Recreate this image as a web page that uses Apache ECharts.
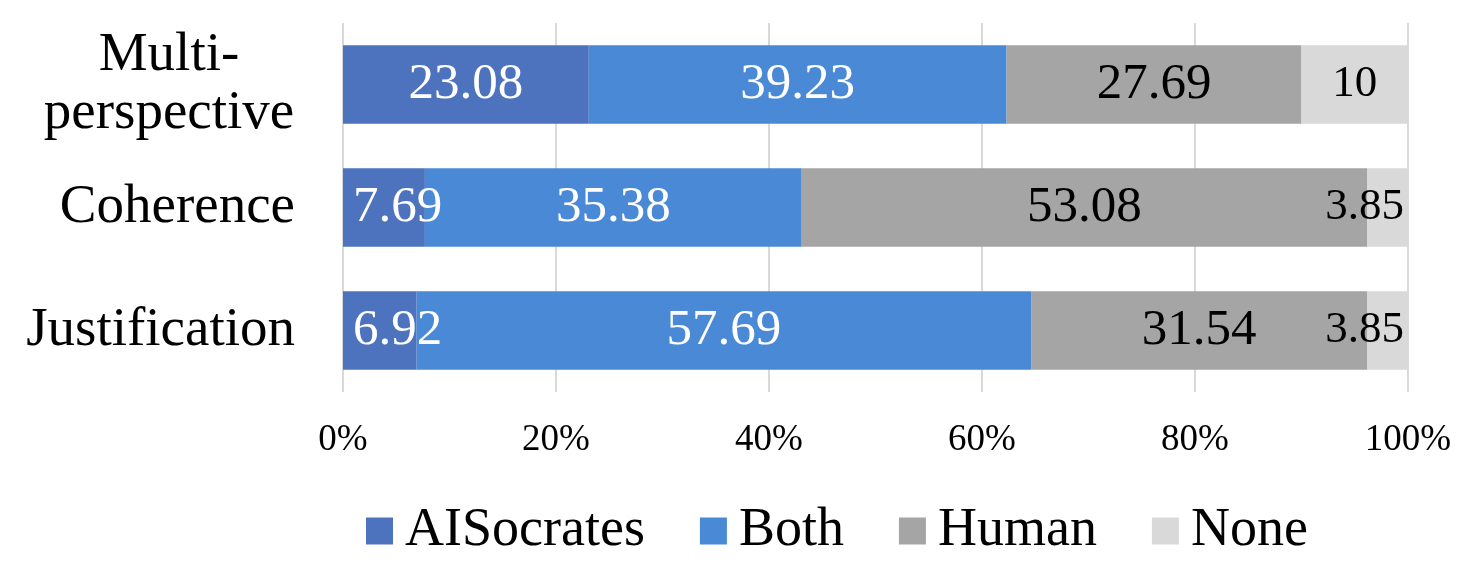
<!DOCTYPE html>
<html>
<head>
<meta charset="utf-8">
<script src="https://cdn.jsdelivr.net/npm/echarts@6/dist/echarts.min.js"></script>
<style>html,body{margin:0;padding:0;background:#fff}#c{width:1460px;height:562px}</style>
</head>
<body>
<div id="c"></div>
<script>
const categories = ['Multi-\nperspective', 'Coherence', 'Justification'];
const seriesNames = ['AISocrates', 'Both', 'Human', 'None'];
const aiSocrates = [23.08, 7.69, 6.92];
const both = [39.23, 35.38, 57.69];
const human = [27.69, 53.08, 31.54];
const none = [10, 3.85, 3.85];
const tickLabels = ['0%', '20%', '40%', '60%', '80%', '100%'];

const FONT = '"Liberation Serif", "Times New Roman", serif';
const colors = ['#4e73be', '#4a89d6', '#a5a5a5', '#d9d9d9'];
const labelColors = ['#ffffff', '#ffffff', '#000000', '#000000'];
const values = [aiSocrates, both, human, none];

function buildData(arr, idx) {
  return arr.map(v => {
    const item = { value: v };
    if (idx === 0 && v < 10) item.label = { position: 'insideLeft', distance: 10 };
    if (idx === 3 && v < 5) item.label = { position: 'insideRight', distance: 4 };
    return item;
  });
}

const chart = echarts.init(document.getElementById('c'));
chart.setOption({
  animation: false,
  backgroundColor: '#ffffff',
  color: colors,
  grid: { left: 343, right: 52, top: 23, bottom: 170, containLabel: false },
  legend: {
    data: seriesNames,
    left: 361,
    top: 496,
    icon: 'rect',
    itemWidth: 27,
    itemHeight: 27,
    itemGap: 55,
    textStyle: { fontFamily: FONT, fontSize: 54, color: '#000', padding: [0, 0, 0, 7], lineHeight: 60 }
  },
  xAxis: {
    type: 'value',
    min: 0,
    max: 100,
    interval: 20,
    axisLine: { show: false },
    axisTick: { show: false },
    splitLine: { show: true, lineStyle: { color: '#d9d9d9', width: 2 } },
    axisLabel: {
      margin: 30,
      fontFamily: FONT,
      fontSize: 37,
      color: '#000',
      formatter: function (v) { return tickLabels[Math.round(v / 20)]; }
    }
  },
  yAxis: {
    type: 'category',
    data: categories,
    inverse: true,
    axisLine: { show: false },
    axisTick: { show: false },
    axisLabel: {
      margin: 48,
      fontFamily: FONT,
      fontSize: 55,
      color: '#000',
      lineHeight: 58,
      align: 'right',
      formatter: function (v) {
        if (v.indexOf('\n') >= 0) {
          return v.split('\n').map(s => '{c|' + s + '}').join('\n');
        }
        return v;
      },
      rich: {
        c: { width: 252, align: 'center', fontFamily: FONT, fontSize: 55, lineHeight: 58, color: '#000' }
      }
    }
  },
  series: seriesNames.map((name, i) => ({
    name: name,
    type: 'bar',
    stack: 'total',
    barCategoryGap: '36%',
    itemStyle: { color: colors[i] },
    label: {
      show: true,
      position: 'inside',
      fontFamily: FONT,
      fontSize: i === 3 ? 45 : 51,
      color: labelColors[i],
      formatter: function (p) { return String(p.value); }
    },
    data: buildData(values[i], i)
  }))
});
</script>
</body>
</html>
